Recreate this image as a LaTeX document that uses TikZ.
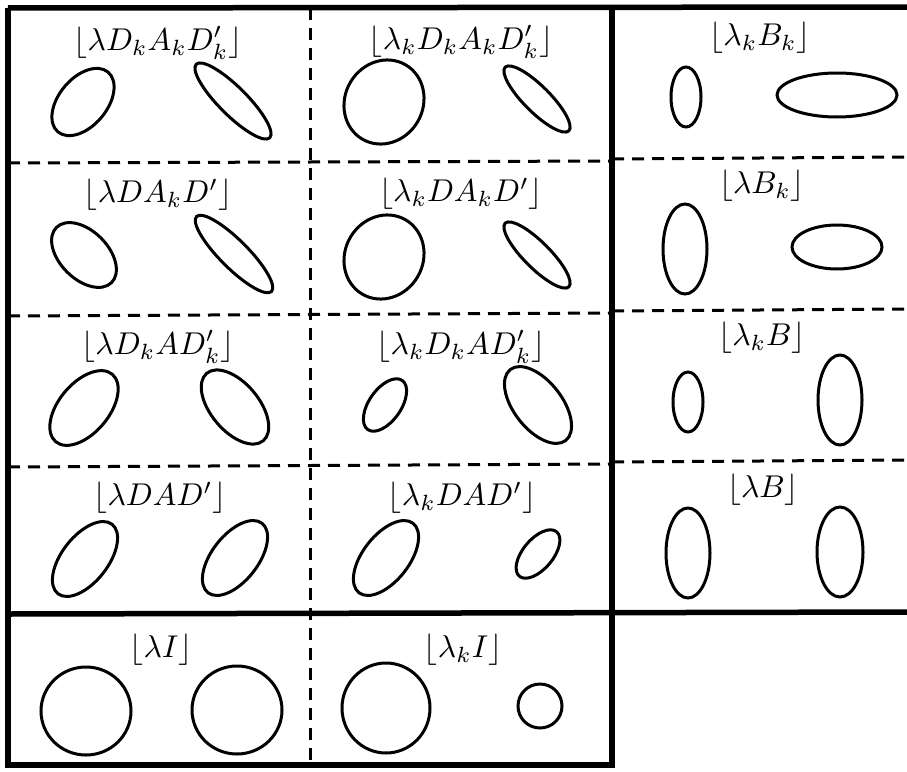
\documentclass[tikz,border=0pt]{standalone}
\begin{document}
\begin{tikzpicture}[x=1pt,y=-1pt,
  thickline/.style={line width=5.5pt},
  dashline/.style={line width=3pt,dash pattern=on 12pt off 8pt},
  oval/.style={line width=3pt},
  lab/.style={scale=3.15,inner sep=0pt}]
\useasboundingbox (0,0) rectangle (907,771);
% grid lines
\draw[dashline] (8,163) -- (612,161);
\draw[dashline] (8,316) -- (612,313);
\draw[dashline] (8,467) -- (612,464);
\draw[dashline] (612,159) -- (907,157);
\draw[dashline] (612,311) -- (907,309);
\draw[dashline] (612,462) -- (907,460);
\draw[dashline] (310,8) -- (310,765);
\draw[thickline] (8,8) -- (907,7);
\draw[thickline] (8,8) -- (8,765) -- (612,765) -- (612,8);
\draw[thickline] (8,614) -- (907,612);
% labels
\node[lab] (l11) at (158,43) {$\lfloor\lambda D_kA_kD'_k\rfloor$};
\node[lab] (l12) at (461,42) {$\lfloor\lambda_kD_kA_kD'_k\rfloor$};
\node[lab] (l13) at (760,38) {$\lfloor\lambda_kB_k\rfloor$};
\node[lab] (l21) at (158,195) {$\lfloor\lambda DA_kD'\rfloor$};
\node[lab] (l22) at (461,194) {$\lfloor\lambda_kDA_kD'\rfloor$};
\node[lab] (l23) at (762,186) {$\lfloor\lambda B_k\rfloor$};
\node[lab] (l31) at (158,347) {$\lfloor\lambda D_kAD'_k\rfloor$};
\node[lab] (l32) at (461,347) {$\lfloor\lambda_kD_kAD'_k\rfloor$};
\node[lab] (l33) at (762,338) {$\lfloor\lambda_kB\rfloor$};
\node[lab] (l41) at (160,498) {$\lfloor\lambda DAD'\rfloor$};
\node[lab] (l42) at (462,498) {$\lfloor\lambda_kDAD'\rfloor$};
\node[lab] (l43) at (763,490) {$\lfloor\lambda B\rfloor$};
\node[lab] (l51) at (161,650) {$\lfloor\lambda I\rfloor$};
\node[lab] (l52) at (463,650) {$\lfloor\lambda_kI\rfloor$};
% row 1
\draw[oval] (83,102) ellipse [x radius=39,y radius=24,rotate=50];
\draw[oval] (233,101) ellipse [x radius=52,y radius=14,rotate=-45];
\draw[oval] (384,102) ellipse [x radius=43,y radius=39,rotate=60];
\draw[oval] (537,99) ellipse [x radius=45,y radius=13,rotate=-45];
\draw[oval] (686,97) ellipse [x radius=15,y radius=30];
\draw[oval] (837,95) ellipse [x radius=60,y radius=22];
% row 2
\draw[oval] (84,255) ellipse [x radius=39,y radius=24,rotate=-45];
\draw[oval] (234,254) ellipse [x radius=53,y radius=14,rotate=-45];
\draw[oval] (384,257) ellipse [x radius=43,y radius=39,rotate=60];
\draw[oval] (537,255) ellipse [x radius=45,y radius=13,rotate=-45];
\draw[oval] (685,249) ellipse [x radius=22,y radius=45];
\draw[oval] (837,247) ellipse [x radius=45,y radius=22];
% row 3
\draw[oval] (84,408) ellipse [x radius=44,y radius=25,rotate=50];
\draw[oval] (235,407) ellipse [x radius=44,y radius=24,rotate=-50];
\draw[oval] (385,405) ellipse [x radius=30,y radius=16,rotate=55];
\draw[oval] (538,405) ellipse [x radius=45,y radius=24,rotate=-52];
\draw[oval] (688,402) ellipse [x radius=15,y radius=30];
\draw[oval] (840,400) ellipse [x radius=22,y radius=45];
% row 4
\draw[oval] (85,559) ellipse [x radius=44,y radius=23,rotate=52];
\draw[oval] (235,558) ellipse [x radius=44,y radius=23,rotate=52];
\draw[oval] (386,558) ellipse [x radius=44,y radius=23,rotate=52];
\draw[oval] (538,554) ellipse [x radius=29,y radius=15,rotate=50];
\draw[oval] (688,553) ellipse [x radius=22,y radius=45];
\draw[oval] (840,552) ellipse [x radius=23,y radius=45];
% row 5
\draw[oval] (86,711) ellipse [x radius=45,y radius=44];
\draw[oval] (237,710) ellipse [x radius=45,y radius=44];
\draw[oval] (386,708) ellipse [x radius=44,y radius=45];
\draw[oval] (540,706) ellipse [x radius=22,y radius=22];
\end{tikzpicture}
\end{document}
